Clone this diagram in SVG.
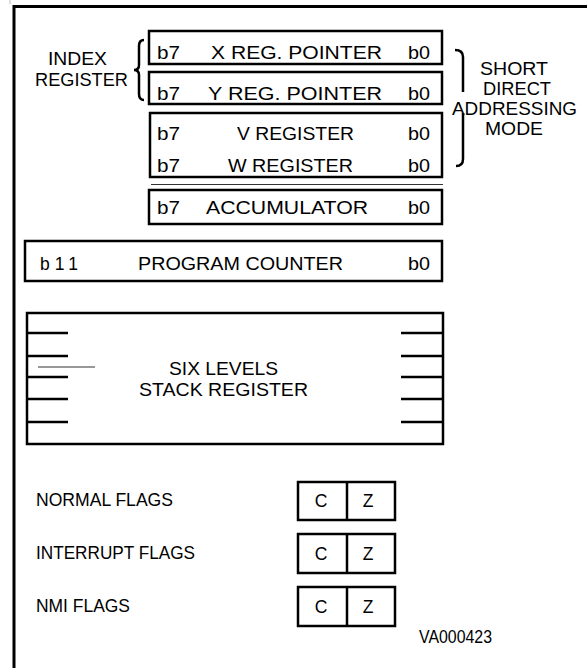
<svg xmlns="http://www.w3.org/2000/svg" width="587" height="668" viewBox="0 0 587 668">
<style>
.box{fill:none;stroke:#000;stroke-width:2.5}
.ln{stroke:#000;stroke-width:2.5;fill:none}
.thin{stroke:#333;stroke-width:1.2;fill:none}
text{font-family:"Liberation Sans",Arial,sans-serif;font-size:17.5px;fill:#000}
.c{text-anchor:middle}
</style>
<rect width="587" height="668" fill="#fff"/>
<g id="frame">
<line x1="10" y1="0" x2="10" y2="4" stroke="#bbb" stroke-width="1"/>
<path d="M14,668 V6.5 H587" stroke="#000" stroke-width="3" fill="none"/>
</g>
<g id="index-label">
<text x="48" y="65" textLength="59" lengthAdjust="spacingAndGlyphs">INDEX</text>
<text x="35" y="86" textLength="93" lengthAdjust="spacingAndGlyphs">REGISTER</text>
<path class="ln" d="M144,40 Q139,40 139,46 L139,65 Q139,70 134,70 Q139,70 139,75 L139,94 Q139,100 144,100" stroke-width="2"/>
</g>
<g id="short-direct">
<path class="ln" stroke-width="2" d="M455,50 Q463,50 463,57 L463,92"/>
<path class="ln" stroke-width="2" d="M463,113 L463,159 Q463,166 456,166"/>
<text x="480" y="75" textLength="68" lengthAdjust="spacingAndGlyphs">SHORT</text>
<text x="483" y="95" textLength="68" lengthAdjust="spacingAndGlyphs">DIRECT</text>
<text x="452" y="115" textLength="125" lengthAdjust="spacingAndGlyphs">ADDRESSING</text>
<text x="485" y="135" textLength="58" lengthAdjust="spacingAndGlyphs">MODE</text>
</g>
<g id="x-reg">
<rect class="box" x="149" y="31" width="293" height="33"/>
<text x="157" y="59" textLength="23" lengthAdjust="spacingAndGlyphs">b7</text>
<text x="211" y="59" textLength="171" lengthAdjust="spacingAndGlyphs">X REG. POINTER</text>
<text x="408" y="59" textLength="22" lengthAdjust="spacingAndGlyphs">b0</text>
</g>
<g id="y-reg">
<rect class="box" x="149" y="72" width="293" height="32"/>
<text x="157" y="100" textLength="23" lengthAdjust="spacingAndGlyphs">b7</text>
<text x="208" y="100" textLength="174" lengthAdjust="spacingAndGlyphs">Y REG. POINTER</text>
<text x="408" y="100" textLength="22" lengthAdjust="spacingAndGlyphs">b0</text>
</g>
<g id="vw-reg">
<rect class="box" x="150" y="113" width="292" height="64"/>
<text x="157" y="140" textLength="23" lengthAdjust="spacingAndGlyphs">b7</text>
<text x="237" y="140" textLength="117" lengthAdjust="spacingAndGlyphs">V REGISTER</text>
<text x="408" y="140" textLength="22" lengthAdjust="spacingAndGlyphs">b0</text>
<text x="157" y="172" textLength="23" lengthAdjust="spacingAndGlyphs">b7</text>
<text x="228" y="172" textLength="125" lengthAdjust="spacingAndGlyphs">W REGISTER</text>
<text x="408" y="172" textLength="22" lengthAdjust="spacingAndGlyphs">b0</text>
</g>
<g id="separator">
<line class="thin" x1="151" y1="184.5" x2="443" y2="184.5"/>
</g>
<g id="accumulator">
<rect class="box" x="149" y="190" width="293" height="34"/>
<text x="157" y="214" textLength="23" lengthAdjust="spacingAndGlyphs">b7</text>
<text x="206" y="214" textLength="162" lengthAdjust="spacingAndGlyphs">ACCUMULATOR</text>
<text x="408" y="214" textLength="22" lengthAdjust="spacingAndGlyphs">b0</text>
</g>
<g id="program-counter">
<rect class="box" x="25" y="241" width="417" height="40"/>
<text x="40" y="270" textLength="38" lengthAdjust="spacing">b11</text>
<text x="138" y="270" textLength="205" lengthAdjust="spacingAndGlyphs">PROGRAM COUNTER</text>
<text x="408" y="270" textLength="22" lengthAdjust="spacingAndGlyphs">b0</text>
</g>
<g id="stack">
<rect class="box" x="27" y="313" width="416" height="131"/>
<path class="ln" d="M27,333 H68 M27,356 H68 M27,377 H68 M27,399 H68 M27,422 H68 M401,333 H443 M401,356 H443 M401,377 H443 M401,399 H443 M401,422 H443"/>
<line class="thin" x1="38" y1="367" x2="95" y2="367"/>
<text x="169" y="375" textLength="109" lengthAdjust="spacingAndGlyphs">SIX LEVELS</text>
<text x="139" y="396" textLength="169" lengthAdjust="spacingAndGlyphs">STACK REGISTER</text>
</g>
<g id="normal-flags">
<text x="36" y="506" textLength="137" lengthAdjust="spacingAndGlyphs">NORMAL FLAGS</text>
<rect class="box" x="298" y="482" width="97" height="38"/>
<line class="ln" x1="347" y1="482" x2="347" y2="520"/>
<text class="c" x="321" y="507">C</text>
<text class="c" x="368" y="507">Z</text>
</g>
<g id="interrupt-flags">
<text x="36" y="559" textLength="159" lengthAdjust="spacingAndGlyphs">INTERRUPT FLAGS</text>
<rect class="box" x="298" y="534" width="97" height="39"/>
<line class="ln" x1="347" y1="534" x2="347" y2="573"/>
<text class="c" x="321" y="560">C</text>
<text class="c" x="368" y="560">Z</text>
</g>
<g id="nmi-flags">
<text x="36" y="612" textLength="94" lengthAdjust="spacingAndGlyphs">NMI FLAGS</text>
<rect class="box" x="298" y="587" width="97" height="39"/>
<line class="ln" x1="347" y1="587" x2="347" y2="626"/>
<text class="c" x="321" y="613">C</text>
<text class="c" x="368" y="613">Z</text>
</g>
<g id="ref-code">
<text x="419" y="643" textLength="73" lengthAdjust="spacingAndGlyphs">VA000423</text>
</g>
</svg>
